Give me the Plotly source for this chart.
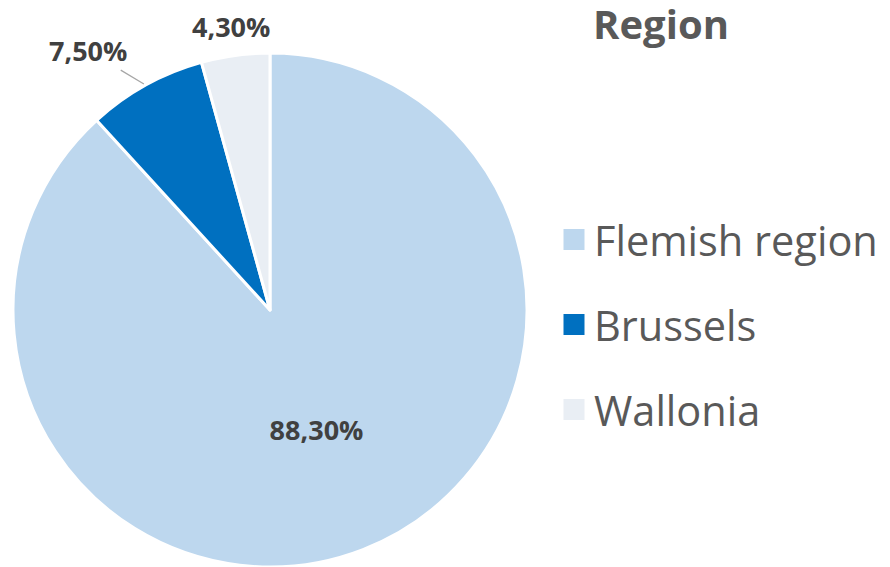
import math
import plotly.graph_objects as go

regions = ["Flemish region", "Brussels", "Wallonia"]
shares = [88.3, 7.5, 4.3]
colors = ["#BDD7EE", "#0070C0", "#E9EEF4"]
label_positions = ["inside", "none", "none"]   # small slices labelled outside below

FONT = "Open Sans"
LABEL_COLOR = "#404040"
# the page body has an 8px default margin, so the figure is 8px smaller
W, H = 882, 559
DOM_X = [5 / W, 519 / W]
DOM_Y = [0, 514 / H]

fig = go.Figure()
fig.add_trace(go.Pie(
    labels=regions,
    values=shares,
    sort=False,
    direction="clockwise",
    rotation=0,
    marker=dict(colors=colors, line=dict(color="white", width=3)),
    textposition=label_positions,
    texttemplate="%{value:.2f}%",
    textfont=dict(family=FONT, size=27, color=LABEL_COLOR, weight="bold"),
    insidetextorientation="horizontal",
    showlegend=False,
    domain=dict(x=DOM_X, y=DOM_Y),
    hoverinfo="label+percent",
))

# outside labels of the small slices, placed at each slice's mid-angle
cx = (DOM_X[0] + DOM_X[1]) / 2 * W
cy = (1 - (DOM_Y[0] + DOM_Y[1]) / 2) * H
r = min((DOM_X[1] - DOM_X[0]) * W, (DOM_Y[1] - DOM_Y[0]) * H) / 2
total = sum(shares)
cum = 0.0
for name, v, pos in zip(regions, shares, label_positions):
    mid = (cum + v / 2) / total * 2 * math.pi
    cum += v
    if pos != "none":
        continue
    txt = f"<b>{v:.2f}%</b>".replace(".", ",")
    if v > 5:
        # label with a leader line from the slice edge
        ex = cx + r * math.sin(mid)
        ey = cy - r * math.cos(mid)
        fig.add_annotation(x=ex / W, y=1 - ey / H, xref="paper", yref="paper",
                           text=txt, showarrow=True, arrowhead=0,
                           arrowcolor="#A6A6A6", arrowwidth=1.2,
                           ax=-58, ay=-35, standoff=2,
                           font=dict(family=FONT, size=27, color=LABEL_COLOR))
    else:
        lx = cx + 1.115 * r * math.sin(mid)
        ly = cy - 1.115 * r * math.cos(mid)
        fig.add_annotation(x=lx / W, y=1 - ly / H, xref="paper", yref="paper",
                           text=txt, showarrow=False,
                           xanchor="center", yanchor="middle",
                           font=dict(family=FONT, size=27, color=LABEL_COLOR))

# legend entries (one group per region, so spacing can be controlled)
for name, col in zip(regions, colors):
    fig.add_trace(go.Scatter(
        x=[None], y=[None], mode="markers", name=name, legendgroup=name,
        marker=dict(symbol="square", size=16, color=col,
                    line=dict(color=col, width=5)),
        showlegend=True,
    ))

fig.update_layout(
    width=W, height=H,
    margin=dict(l=0, r=0, t=0, b=0),
    paper_bgcolor="white", plot_bgcolor="white",
    separators=",.",
    title=dict(text="<b>Region</b>", x=653 / W, xanchor="center",
               y=1 - 3 / H, yanchor="top",
               font=dict(family=FONT, size=40, color="#595959")),
    xaxis=dict(visible=False), yaxis=dict(visible=False),
    legend=dict(
        x=546 / W, xanchor="left", y=1 - 198 / H, yanchor="top",
        font=dict(family=FONT, size=41.5, color="#595959"),
        traceorder="grouped", tracegroupgap=28,
        bgcolor="rgba(0,0,0,0)",
    ),
)

fig.write_html("out.html")
